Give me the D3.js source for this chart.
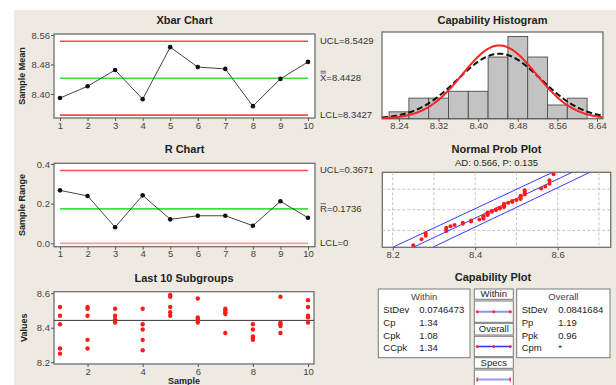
<!DOCTYPE html>
<html>
<head>
<meta charset="utf-8">
<script src="https://cdn.jsdelivr.net/npm/d3@7"></script>
<style>
  body { margin: 0; background: #fff; }
  svg { display: block; font-family: "Liberation Sans", Arial, sans-serif; }
</style>
</head>
<body>
<svg id="chart" width="616" height="385"></svg>
<script>
// ---- data ----
const samples = [1, 2, 3, 4, 5, 6, 7, 8, 9, 10];
const xbarValues = [8.389, 8.421, 8.465, 8.386, 8.527, 8.473, 8.468, 8.367, 8.441, 8.487];
const rangeValues = [0.267, 0.239, 0.081, 0.242, 0.121, 0.139, 0.139, 0.089, 0.212, 0.129];
const xbarLimits = [
  { key: 'UCL', value: 8.5429, color: '#ff4d4d' },
  { key: 'X', value: 8.4428, color: '#3ee03e' },
  { key: 'LCL', value: 8.3427, color: '#ff4d4d' },
];
const rLimits = [
  { key: 'UCL', value: 0.3671, color: '#ff4d4d' },
  { key: 'R', value: 0.1736, color: '#3ee03e' },
  { key: 'LCL', value: 0, color: '#ff9a9a' },
];
const xbarLabels = ['UCL=8.5429', '=8.4428', 'LCL=8.3427'];
const rLabels = ['UCL=0.3671', '=0.1736', 'LCL=0'];

// individual values of each subgroup
const subgroups = [
  [8.52, 8.47, 8.42, 8.28, 8.25],
  [8.52, 8.51, 8.47, 8.33, 8.28],
  [8.51, 8.47, 8.45, 8.44, 8.43],
  [8.51, 8.42, 8.39, 8.33, 8.27],
  [8.59, 8.58, 8.52, 8.49, 8.47],
  [8.57, 8.46, 8.45, 8.44, 8.43],
  [8.51, 8.50, 8.49, 8.48, 8.37],
  [8.42, 8.39, 8.35, 8.34, 8.33],
  [8.58, 8.43, 8.42, 8.41, 8.37],
  [8.56, 8.52, 8.47, 8.46, 8.43],
];
const grandMean = 8.4428;

const histBinStarts = [8.22, 8.26, 8.30, 8.34, 8.38, 8.42, 8.46, 8.50, 8.54, 8.58];
const histCounts = [1, 3, 3, 4, 4, 9, 12, 9, 2, 3];
const binWidth = 0.04;
const histTicks = [8.24, 8.32, 8.40, 8.48, 8.56, 8.64];
const sdWithin = 0.0746473;
const sdOverall = 0.0841684;

const probTicks = [8.2, 8.4, 8.6];
const probGridX = [8.2, 8.3, 8.4, 8.5, 8.6, 8.7];
const probGridPct = [10, 50, 90];
const probRangePct = [1, 99];
// straight lines of the probability plot: [value, percent]
const probFitLine = [[8.250, 1], [8.635, 99]];
const probUpperBand = [[8.200, 1], [8.588, 99]];
const probLowerBand = [[8.297, 1], [8.678, 99]];

const withinStats = [['StDev', '0.0746473'], ['Cp', '1.34'], ['Cpk', '1.08'], ['CCpk', '1.34']];
const overallStats = [['StDev', '0.0841684'], ['Pp', '1.19'], ['Ppk', '0.96'], ['Cpm', '*']];

// ---- helpers ----
function probit(p) {
  const a = [-39.6968302866538, 220.946098424521, -275.928510446969, 138.357751867269, -30.6647980661472, 2.50662827745924];
  const b = [-54.4760987982241, 161.585836858041, -155.698979859887, 66.8013118877197, -13.2806815528857];
  const c = [-0.00778489400243029, -0.322396458041136, -2.40075827716184, -2.54973253934373, 4.37466414146497, 2.93816398269878];
  const d = [0.00778469570904146, 0.32246712907004, 2.445134137143, 3.75440866190742];
  const tail = q => (((((c[0] * q + c[1]) * q + c[2]) * q + c[3]) * q + c[4]) * q + c[5]) /
    ((((d[0] * q + d[1]) * q + d[2]) * q + d[3]) * q + 1);
  if (p < 0.02425) return tail(Math.sqrt(-2 * Math.log(p)));
  if (p > 1 - 0.02425) return -tail(Math.sqrt(-2 * Math.log(1 - p)));
  const q = p - 0.5, r = q * q;
  return (((((a[0] * r + a[1]) * r + a[2]) * r + a[3]) * r + a[4]) * r + a[5]) * q /
    (((((b[0] * r + b[1]) * r + b[2]) * r + b[3]) * r + b[4]) * r + 1);
}
const normalPdf = (x, m, s) => Math.exp(-0.5 * ((x - m) / s) ** 2) / (s * Math.sqrt(2 * Math.PI));

const svg = d3.select('#chart');
svg.append('rect').attr('x', 14).attr('y', 10).attr('width', 602).attr('height', 375).attr('fill', '#eeeae1');

function frame(b) {
  svg.append('rect')
    .attr('x', b.x0).attr('y', b.y0)
    .attr('width', b.x1 - b.x0).attr('height', b.y1 - b.y0)
    .attr('fill', '#fff').attr('stroke', '#6e6e6e').attr('stroke-width', 1.3);
}
function title(x, y, t, bold = true, size = 11) {
  svg.append('text').attr('x', x).attr('y', y).attr('text-anchor', 'middle')
    .attr('dominant-baseline', 'middle')
    .attr('font-size', size).attr('font-weight', bold ? 'bold' : 'normal')
    .attr('fill', '#222').text(t);
}
function yLabel(x, y, t) {
  svg.append('text').attr('transform', `translate(${x},${y}) rotate(-90)`)
    .attr('text-anchor', 'middle').attr('dominant-baseline', 'middle')
    .attr('font-size', 9).attr('font-weight', 'bold').attr('fill', '#222').text(t);
}
function styleAxis(g) {
  g.select('.domain').remove();
  g.selectAll('.tick line').attr('stroke', '#555');
  g.selectAll('.tick text').attr('fill', '#444').attr('font-size', 9.5)
    .attr('font-family', '"Liberation Sans", Arial, sans-serif');
}

const sx = d3.scaleLinear().domain([1, 10]).range([60, 308]);

// ---- control chart (Xbar / R) ----
function controlChart(b, values, yDomain, yTicks, fmt, limits, labels, bar, name, caption) {
  frame(b);
  const y = d3.scaleLinear().domain(yDomain).range([b.y1, b.y0]);
  title((b.x0 + b.x1) / 2, b.y0 - 13, name);
  yLabel(b.x0 - 31, (b.y0 + b.y1) / 2, caption);

  svg.append('g').attr('transform', `translate(${b.x0},0)`)
    .call(d3.axisLeft(y).tickValues(yTicks).tickFormat(d3.format(fmt)).tickSize(3).tickPadding(1))
    .call(styleAxis);
  svg.append('g').attr('transform', `translate(0,${b.y1})`)
    .call(d3.axisBottom(sx).tickValues(samples).tickFormat(d3.format('d')).tickSize(3).tickPadding(1))
    .call(styleAxis);

  svg.append('g').selectAll('line').data(limits).join('line')
    .attr('x1', sx(1)).attr('x2', sx(10))
    .attr('y1', d => y(d.value)).attr('y2', d => y(d.value))
    .attr('stroke', d => d.color).attr('stroke-width', 1.6);

  svg.append('path').datum(values)
    .attr('d', d3.line().x((d, i) => sx(samples[i])).y(d => y(d)))
    .attr('fill', 'none').attr('stroke', '#444').attr('stroke-width', 1);
  svg.append('g').selectAll('circle').data(values).join('circle')
    .attr('cx', (d, i) => sx(samples[i])).attr('cy', d => y(d)).attr('r', 2.3).attr('fill', '#111');

  const lx = b.x1 + 5;
  limits.forEach((d, i) => {
    const t = svg.append('text').attr('x', lx).attr('y', y(d.value)).attr('dominant-baseline', 'middle')
      .attr('font-size', 9.5).attr('fill', '#333');
    if (i === 1) {
      t.append('tspan').text(d.key);
      t.append('tspan').text(labels[i]);
      // over-bar(s) above the symbol
      for (let k = 0; k < bar; k++) {
        svg.append('line').attr('x1', lx + 0.5).attr('x2', lx + 6)
          .attr('y1', y(d.value) - 5.2 - k * 1.8).attr('y2', y(d.value) - 5.2 - k * 1.8)
          .attr('stroke', '#333').attr('stroke-width', 0.7);
      }
    } else {
      t.text(labels[i]);
    }
  });
}

controlChart({ x0: 54, x1: 315, y0: 34, y1: 118 }, xbarValues, [8.3349, 8.5627],
  [8.40, 8.48, 8.56], '.2f', xbarLimits, xbarLabels, 2, 'Xbar Chart', 'Sample Mean');
controlChart({ x0: 54, x1: 315, y0: 163.3, y1: 246.7 }, rangeValues, [-0.017, 0.4035],
  [0.0, 0.2, 0.4], '.1f', rLimits, rLabels, 1, 'R Chart', 'Sample Range');

// ---- last 10 subgroups ----
{
  const b = { x0: 54, x1: 314, y0: 291.7, y1: 364 };
  frame(b);
  const y = d3.scaleLinear().domain([8.190, 8.609]).range([b.y1, b.y0]);
  title((b.x0 + b.x1) / 2, b.y0 - 13, 'Last 10 Subgroups');
  yLabel(b.x0 - 29, (b.y0 + b.y1) / 2, 'Values');
  svg.append('g').attr('transform', `translate(${b.x0},0)`)
    .call(d3.axisLeft(y).tickValues([8.2, 8.4, 8.6]).tickFormat(d3.format('.1f')).tickSize(3).tickPadding(1))
    .call(styleAxis);
  svg.append('g').attr('transform', `translate(0,${b.y1})`)
    .call(d3.axisBottom(sx).tickValues([2, 4, 6, 8, 10]).tickFormat(d3.format('d')).tickSize(3).tickPadding(1))
    .call(styleAxis);
  svg.append('line').attr('x1', b.x0).attr('x2', b.x1)
    .attr('y1', y(grandMean)).attr('y2', y(grandMean)).attr('stroke', '#333').attr('stroke-width', 1);
  const pts = subgroups.flatMap((g, i) => g.map(v => ({ s: samples[i], v })));
  svg.append('g').selectAll('circle').data(pts).join('circle')
    .attr('cx', d => sx(d.s)).attr('cy', d => y(d.v)).attr('r', 2.2).attr('fill', '#ff1a1a');
  svg.append('text').attr('x', (b.x0 + b.x1) / 2).attr('y', 383.5).attr('text-anchor', 'middle')
    .attr('font-size', 9).attr('font-weight', 'bold').attr('fill', '#222').text('Sample');
}

// ---- capability histogram ----
{
  const b = { x0: 382, x1: 603, y0: 32, y1: 118.7 };
  frame(b);
  const x = d3.scaleLinear().domain([8.2057, 8.6521]).range([b.x0, b.x1]);
  const y = d3.scaleLinear().domain([0, 12.65]).range([b.y1, b.y0]);
  title((b.x0 + b.x1) / 2, 21, 'Capability Histogram');
  svg.append('g').attr('transform', `translate(0,${b.y1})`)
    .call(d3.axisBottom(x).tickValues(histTicks).tickFormat(d3.format('.2f')).tickSize(3).tickPadding(1))
    .call(styleAxis);
  svg.append('g').selectAll('rect').data(histCounts).join('rect')
    .attr('x', (d, i) => x(histBinStarts[i])).attr('width', (d, i) => x(histBinStarts[i] + binWidth) - x(histBinStarts[i]))
    .attr('y', d => y(d)).attr('height', d => y(0) - y(d))
    .attr('fill', '#c3c3c3').attr('stroke', '#4d4d4d').attr('stroke-width', 0.9);
  const n = d3.sum(histCounts);
  const xs = d3.range(x.domain()[0], x.domain()[1], 0.002);
  const curve = sd => d3.line().x(v => x(v)).y(v => y(n * binWidth * normalPdf(v, grandMean, sd)))(xs);
  svg.append('path').attr('d', curve(sdOverall)).attr('fill', 'none')
    .attr('stroke', '#111').attr('stroke-width', 2).attr('stroke-dasharray', '6,3');
  svg.append('path').attr('d', curve(sdWithin)).attr('fill', 'none')
    .attr('stroke', '#ff2222').attr('stroke-width', 2);
}

// ---- normal probability plot ----
{
  const b = { x0: 382.3, x1: 610.7, y0: 172.3, y1: 247.3 };
  frame(b);
  const x = d3.scaleLinear().domain([8.1748, 8.7285]).range([b.x0, b.x1]);
  const y = d3.scaleLinear().domain(probRangePct.map(p => probit(p / 100))).range([b.y1, b.y0]);
  title((b.x0 + b.x1) / 2, 150, 'Normal Prob Plot');
  title((b.x0 + b.x1) / 2, 163.5, 'AD: 0.566, P: 0.135', false, 9.5);
  svg.append('g').attr('transform', `translate(0,${b.y1})`)
    .call(d3.axisBottom(x).tickValues(probTicks).tickFormat(d3.format('.1f')).tickSize(3).tickPadding(1))
    .call(styleAxis);
  const grid = svg.append('g').attr('stroke', '#b5b5b5').attr('stroke-dasharray', '3,2').attr('stroke-width', 0.8);
  grid.selectAll('.gx').data(probGridX).join('line')
    .attr('x1', d => x(d)).attr('x2', d => x(d)).attr('y1', b.y0).attr('y2', b.y1);
  grid.selectAll('.gy').data(probGridPct).join('line')
    .attr('x1', b.x0).attr('x2', b.x1)
    .attr('y1', d => y(probit(d / 100))).attr('y2', d => y(probit(d / 100)));

  svg.append('clipPath').attr('id', 'probClip').append('rect')
    .attr('x', b.x0).attr('y', b.y0).attr('width', b.x1 - b.x0).attr('height', b.y1 - b.y0);
  const g = svg.append('g').attr('clip-path', 'url(#probClip)');
  const line = d3.line().x(d => x(d[0])).y(d => y(probit(d[1] / 100)));
  [probUpperBand, probFitLine, probLowerBand].forEach(l => {
    g.append('path').attr('d', line(l)).attr('stroke', '#3a3aff').attr('stroke-width', 1).attr('fill', 'none');
  });
  const sorted = subgroups.flat().sort(d3.ascending);
  const nn = sorted.length;
  g.selectAll('circle').data(sorted).join('circle')
    .attr('cx', d => x(d)).attr('cy', (d, i) => y(probit((i + 1 - 0.3) / (nn + 0.4))))
    .attr('r', 2).attr('fill', '#ff1a1a');
}

// ---- capability plot ----
{
  title(493, 278, 'Capability Plot');
  const box = (x0, y0, x1, y1) => svg.append('rect').attr('x', x0).attr('y', y0)
    .attr('width', x1 - x0).attr('height', y1 - y0)
    .attr('fill', '#fff').attr('stroke', '#7a7a7a').attr('stroke-width', 1);
  const txt = (x, y, t, anchor = 'start') => svg.append('text').attr('x', x).attr('y', y)
    .attr('text-anchor', anchor).attr('dominant-baseline', 'middle')
    .attr('font-size', 9.5).attr('fill', '#222').text(t);

  function statBox(x0, x1, head, rows, valueX) {
    box(x0, 289, x1, 357.7);
    txt((x0 + x1) / 2, 297, head, 'middle').attr('fill', '#444');
    rows.forEach((r, i) => {
      txt(x0 + 5, 310.7 + i * 12.7, r[0]);
      txt(valueX, 310.7 + i * 12.7, r[1]);
    });
  }
  statBox(378.3, 470, 'Within', withinStats, 419.3);
  statBox(516.7, 610, 'Overall', overallStats, 558.3);

  const mx0 = 474.3, mx1 = 513.3;
  const rows = [
    { label: 'Within', ly: [289, 299.3], ky: [301, 322.3], color: '#8f8fff', w: 2, marks: 'dots' },
    { label: 'Overall', ly: [323.3, 335], ky: [336.3, 356.7], color: '#2f2fff', w: 1.4, marks: 'dots' },
    { label: 'Specs', ly: [357.7, 368.3], ky: [370, 392], color: '#9a9aff', w: 2, marks: 'ticks' },
  ];
  rows.forEach(r => {
    box(mx0, r.ly[0], mx1, r.ly[1]);
    txt((mx0 + mx1) / 2, (r.ly[0] + r.ly[1]) / 2 + 0.5, r.label, 'middle');
    box(mx0, r.ky[0], mx1, r.ky[1]);
    const ly = r.marks === 'ticks' ? 379.5 : (r.ky[0] + r.ky[1]) / 2;
    const lx0 = mx0 + 3, lx1 = mx1 - 3;
    svg.append('line').attr('x1', lx0).attr('x2', lx1).attr('y1', ly).attr('y2', ly)
      .attr('stroke', r.color).attr('stroke-width', r.w);
    if (r.marks === 'dots') {
      [lx0, (lx0 + lx1) / 2, lx1].forEach(px => {
        svg.append('circle').attr('cx', px).attr('cy', ly).attr('r', 1.5).attr('fill', '#ff2a2a');
      });
    } else {
      [lx0, lx1].forEach(px => {
        svg.append('line').attr('x1', px).attr('x2', px).attr('y1', ly - 2).attr('y2', ly + 2)
          .attr('stroke', '#ff2a2a').attr('stroke-width', 1.5);
      });
    }
  });
}
</script>
</body>
</html>
